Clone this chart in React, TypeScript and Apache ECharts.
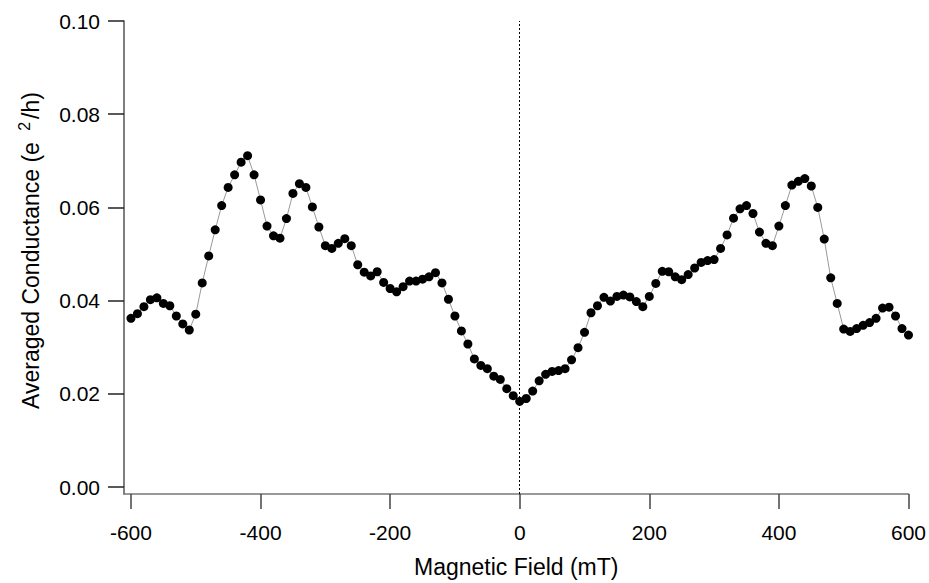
import React, { useEffect, useRef } from "react";
import * as echarts from "echarts";

const field = [
  -600, -590, -580, -570, -560, -550, -540, -530, -520, -510,
  -500, -490, -480, -470, -460, -450, -440, -430, -420, -410,
  -400, -390, -380, -370, -360, -350, -340, -330, -320, -310,
  -300, -290, -280, -270, -260, -250, -240, -230, -220, -210,
  -200, -190, -180, -170, -160, -150, -140, -130, -120, -110,
  -100, -90, -80, -70, -60, -50, -40, -30, -20, -10,
  0, 10, 20, 30, 40, 50, 60, 70, 80, 90,
  100, 110, 120, 130, 140, 150, 160, 170, 180, 190,
  200, 210, 220, 230, 240, 250, 260, 270, 280, 290,
  300, 310, 320, 330, 340, 350, 360, 370, 380, 390,
  400, 410, 420, 430, 440, 450, 460, 470, 480, 490,
  500, 510, 520, 530, 540, 550, 560, 570, 580, 590,
  600,
];

const conductance = [
  0.0362, 0.0372, 0.0387, 0.0402, 0.0406, 0.0394, 0.0389, 0.0367, 0.035, 0.0337,
  0.0371, 0.0438, 0.0496, 0.0552, 0.0604, 0.0643, 0.067, 0.0697, 0.0711, 0.067,
  0.0616, 0.056, 0.0539, 0.0534, 0.0576, 0.063, 0.0651, 0.0643, 0.0601, 0.0558,
  0.0518, 0.0512, 0.0523, 0.0533, 0.0518, 0.0477, 0.0461, 0.0453, 0.0462, 0.0439,
  0.0426, 0.0419, 0.043, 0.0442, 0.0442, 0.0446, 0.0451, 0.046, 0.0438, 0.0403,
  0.0367, 0.0335, 0.0307, 0.0275, 0.0261, 0.0254, 0.0238, 0.0231, 0.0211, 0.0196,
  0.0184, 0.019, 0.0206, 0.0228, 0.0242, 0.0248, 0.025, 0.0254, 0.0273, 0.0299,
  0.0332, 0.0374, 0.0389, 0.0407, 0.0399, 0.0409, 0.0412, 0.0408, 0.0398, 0.0387,
  0.0409, 0.0437, 0.0463, 0.0462, 0.0451, 0.0445, 0.0456, 0.047, 0.0482, 0.0486,
  0.0488, 0.0512, 0.0541, 0.0577, 0.0597, 0.0604, 0.0587, 0.0547, 0.0523, 0.0518,
  0.056, 0.0604, 0.0648, 0.0656, 0.0662, 0.0646, 0.06, 0.0532, 0.0449, 0.0394,
  0.0339, 0.0334, 0.034, 0.0347, 0.0353, 0.0362, 0.0384, 0.0386, 0.0367, 0.034,
  0.0326,
];

const xTicks = [-600, -400, -200, 0, 200, 400, 600];
const yTicks = [0, 0.02, 0.04, 0.06, 0.08, 0.1];

const FONT = "'Liberation Sans', Arial, Helvetica, sans-serif";

export default function App() {
  const ref = useRef<HTMLDivElement>(null);

  useEffect(() => {
    if (!ref.current) return;
    const chart = echarts.init(ref.current, null, { renderer: "svg" });
    const points = field.map((f, i) => [f, conductance[i]]);
    chart.setOption({
      animation: false,
      backgroundColor: "#ffffff",
      textStyle: { fontFamily: FONT },
      grid: { left: 124, right: 16, top: 21, bottom: 85 },
      xAxis: {
        type: "value",
        min: -610.74,
        max: 600,
        name: "Magnetic Field (mT)",
        nameLocation: "middle",
        nameGap: 61,
        nameTextStyle: { fontFamily: FONT, fontSize: 23, color: "#000" },
        splitLine: { show: false },
        axisLine: { show: true, onZero: false, lineStyle: { color: "#777", width: 1.5 } },
        axisTick: {
          show: true,
          length: 15,
          customValues: xTicks,
          lineStyle: { color: "#444", width: 1.5 },
        },
        axisLabel: {
          customValues: xTicks,
          margin: 28,
          fontFamily: FONT,
          fontSize: 21,
          color: "#000",
          formatter: (v: number) => String(v),
        },
      },
      yAxis: {
        type: "value",
        min: -0.0014894,
        max: 0.1,
        name: "Averaged Conductance (e {sup|2}/h)",
        nameLocation: "middle",
        nameGap: 78,
        nameTextStyle: {
          fontFamily: FONT,
          fontSize: 23,
          color: "#000",
          padding: [0, 0, 0, 14],
          rich: {
            sup: {
              fontFamily: FONT,
              fontSize: 16,
              color: "#000",
              padding: [0, 3, 14, 5],
            },
          },
        },
        splitLine: { show: false },
        axisLine: { show: true, onZero: false, lineStyle: { color: "#555", width: 1.5 } },
        axisTick: {
          show: true,
          length: 16,
          customValues: yTicks,
          lineStyle: { color: "#222", width: 1.5 },
        },
        axisLabel: {
          customValues: yTicks,
          margin: 24,
          fontFamily: FONT,
          fontSize: 21,
          color: "#000",
          formatter: (v: number) => v.toFixed(2),
        },
      },
      series: [
        {
          type: "line",
          data: points,
          symbol: "circle",
          symbolSize: 9,
          showSymbol: true,
          itemStyle: { color: "#000" },
          lineStyle: { color: "#999", width: 1 },
          markLine: {
            silent: true,
            symbol: ["none", "none"],
            label: { show: false },
            lineStyle: { color: "#000", type: [2, 2], width: 1 },
            data: [{ xAxis: 0 }],
          },
        },
      ],
    });
    return () => chart.dispose();
  }, []);

  return (
    <div
      ref={ref}
      style={{ position: "absolute", left: 0, top: 0, width: 929, height: 583 }}
    />
  );
}
